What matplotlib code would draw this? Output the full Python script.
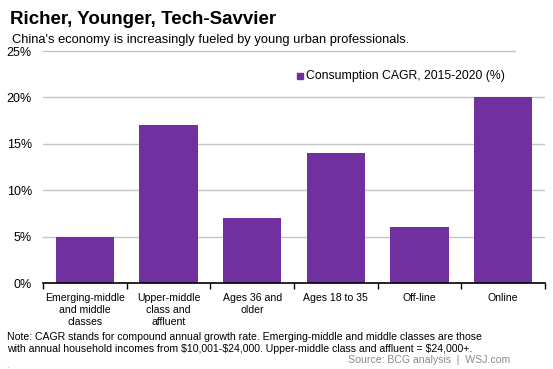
import matplotlib.pyplot as plt
from matplotlib.patches import Rectangle

plt.rcParams['font.family'] = ['Liberation Sans', 'DejaVu Sans']

categories = ['Emerging-middle\nand middle\nclasses', 'Upper-middle\nclass and\naffluent',
              'Ages 36 and\nolder', 'Ages 18 to 35', 'Off-line', 'Online']
cagr = [5, 17, 7, 14, 6, 20]
yticks = [0, 5, 10, 15, 20, 25]
purple = '#7030a0'

W, H = 553, 369
fig = plt.figure(figsize=(W / 100, H / 100), dpi=100)
ax = fig.add_axes([43 / W, 1 - 283 / H, (545 - 43) / W, (283 - 51) / H])

x = range(len(categories))
ax.bar(x, cagr, width=0.70, color=purple, zorder=3)
ax.set_xlim(-0.5, len(categories) - 0.5)
ax.set_ylim(0, 25)
ax.set_yticks(yticks)
ax.set_yticklabels([f'{v}%' for v in yticks], fontsize=9)
ax.tick_params(axis='y', length=0, pad=8)
for v in yticks[1:-1]:
    ax.axhline(v, color='#c4c4c4', linewidth=1, zorder=0)
# top gridline stops short of the right edge
ax.axhline(25, xmax=(515 - 43) / (545 - 43), color='#c4c4c4', linewidth=1, zorder=0, clip_on=False)

# ticks at category boundaries, labels at centres
ax.set_xticks([i - 0.5 for i in range(len(categories) + 1)])
ax.set_xticklabels([])
ax.set_xticks(list(x), minor=True)
ax.set_xticklabels(categories, minor=True, fontsize=7.6, linespacing=1.25, va='top')
ax.tick_params(axis='x', which='major', length=4, width=1, direction='out', color='black')
ax.tick_params(axis='x', which='minor', length=0, pad=7)

for s in ['top', 'right', 'left']:
    ax.spines[s].set_visible(False)
ax.spines['bottom'].set_color('black')
ax.spines['bottom'].set_linewidth(1.2)
ax.spines['bottom'].set_zorder(4)

# legend
fig.patches.append(Rectangle((297 / W, 1 - 79 / H), 6 / W, 6 / H,
                             transform=fig.transFigure, color=purple))
fig.text(306 / W, 1 - 76 / H, 'Consumption CAGR, 2015-2020 (%)', fontsize=8.8, va='center')

fig.text(10 / W, 1 - 20 / H, 'Richer, Younger, Tech-Savvier', fontsize=13.5,
         fontweight='bold', va='center')
fig.text(12 / W, 1 - 40 / H, "China's economy is increasingly fueled by young urban professionals.",
         fontsize=9.25, va='center')
fig.text(7 / W, 1 - 337 / H,
         'Note: CAGR stands for compound annual growth rate. Emerging-middle and middle classes are those',
         fontsize=7.6, va='center')
fig.text(7 / W, 1 - 349 / H,
         'with annual household incomes from $10,001-$24,000. Upper-middle class and affluent = $24,000+.',
         fontsize=7.6, va='center')
fig.text(510 / W, 1 - 360 / H, 'Source: BCG analysis  |  WSJ.com', fontsize=7.6,
         color='#8c8c8c', ha='right', va='center')
fig.text(6 / W, 1 - 366 / H, '.', fontsize=6, color='#8c8c8c', va='center')

fig.savefig('out.png', dpi=100)
